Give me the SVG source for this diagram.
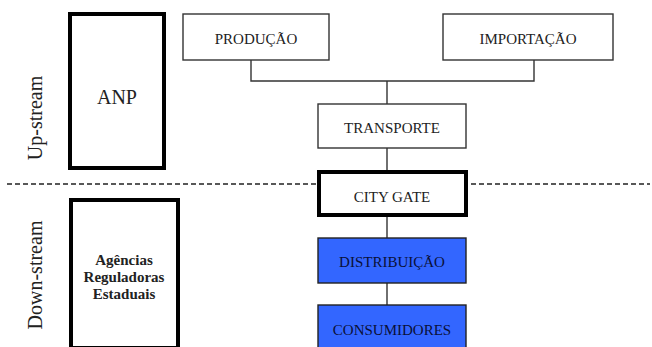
<svg xmlns="http://www.w3.org/2000/svg" width="652" height="347" viewBox="0 0 652 347" font-family="'Liberation Serif', 'Times New Roman', Times, serif">
<style>
.box{fill:#fff;stroke:#333;stroke-width:1.4}
.thick{fill:#fff;stroke:#000;stroke-width:4}
.blue{fill:#3366ff;stroke:#222;stroke-width:1.4}
text{font-family:'Liberation Serif','Times New Roman',Times,serif}
.lbl{font-size:15px;fill:#222;text-anchor:middle}
.blbl{font-size:15px;fill:#0a1038;text-anchor:middle}
.side{font-size:20px;fill:#222;text-anchor:middle}
.conn{fill:none;stroke:#333;stroke-width:1.4}
</style>
<line x1="7" y1="184" x2="650" y2="184" stroke="#222" stroke-width="1.3" stroke-dasharray="5,3"/>
<text class="side" transform="translate(42,118) rotate(-90)">Up-stream</text>
<text class="side" transform="translate(42,275) rotate(-90)">Down-stream</text>
<g id="connectors">
<path class="conn" d="M251,60 V81 H534 V60"/>
<path class="conn" d="M387,81 V104"/>
<path class="conn" d="M387,148 V170"/>
<path class="conn" d="M387,217 V238"/>
<path class="conn" d="M387,283 V305"/>
</g>
<g id="anp"><rect class="thick" x="70" y="14" width="94" height="154"/><text class="side" x="117" y="104">ANP</text></g>
<g id="agencias"><rect class="thick" x="71" y="200" width="107" height="148"/>
<text class="lbl" x="124" y="265" font-weight="bold">Agências</text>
<text class="lbl" x="124" y="282" font-weight="bold">Reguladoras</text>
<text class="lbl" x="124" y="299" font-weight="bold">Estaduais</text></g>
<g id="producao"><rect class="box" x="183" y="14" width="146" height="46"/><text class="lbl" x="256" y="44">PRODUÇÃO</text></g>
<g id="importacao"><rect class="box" x="443" y="14" width="170" height="46"/><text class="lbl" x="528" y="44">IMPORTAÇÃO</text></g>
<g id="transporte"><rect class="box" x="318" y="104" width="148" height="44"/><text class="lbl" x="392" y="133">TRANSPORTE</text></g>
<g id="citygate"><rect class="thick" x="319" y="172" width="147" height="43"/><text class="lbl" x="392" y="202">CITY GATE</text></g>
<g id="distribuicao"><rect class="blue" x="318" y="238" width="148" height="45"/><text class="blbl" x="392" y="267">DISTRIBUIÇÃO</text></g>
<g id="consumidores"><rect class="blue" x="318" y="305" width="148" height="45"/><text class="blbl" x="392" y="335">CONSUMIDORES</text></g>
</svg>
